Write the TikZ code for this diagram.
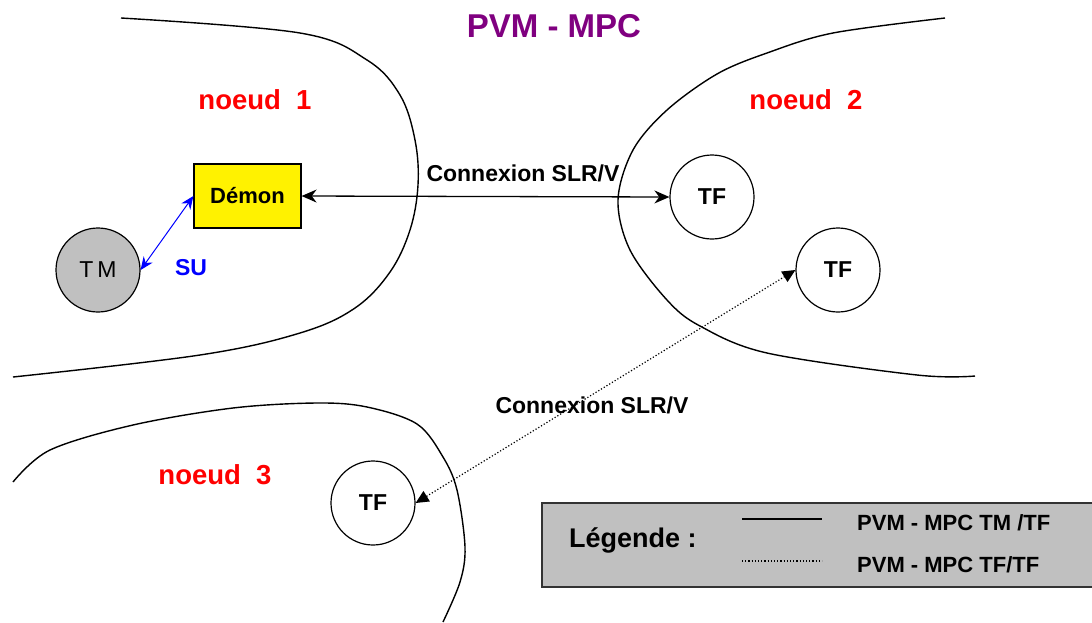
\documentclass[tikz,border=0pt]{standalone}
\usepackage{fontspec}
\setmainfont{Liberation Sans}
\usetikzlibrary{arrows.meta}
\definecolor{pvmpurple}{HTML}{800080}
\definecolor{legendgray}{HTML}{C0C0C0}
\definecolor{tmgray}{HTML}{C0C0C0}
\tikzset{
  boundary/.style={line width=1.4pt, black},
  tfnode/.style={circle, draw=black, line width=1.2pt, minimum size=84pt, inner sep=0pt,
    font=\fontsize{23}{27}\selectfont\bfseries},
  noeudlabel/.style={text=red, font=\fontsize{27.5}{31}\selectfont\bfseries, inner sep=0pt},
  connlabel/.style={font=\fontsize{23}{27}\selectfont\bfseries, inner sep=0pt},
  legtext/.style={font=\fontsize{22}{26}\selectfont\bfseries, inner sep=0pt, anchor=west},
}
\begin{document}
\begin{tikzpicture}[x=1pt, y=-1pt]
\useasboundingbox (0,0) rectangle (1092,622);
\fill[white] (0,0) rectangle (1092,622);

% node boundaries
\draw[boundary] plot[smooth, tension=0.6] coordinates {(121,18) (300,33) (367,60) (400,95) (415,140) (418,185) (410,230) (390,272) (355,308) (300,333) (200,355) (13,377)};
\draw[boundary] plot[smooth, tension=0.55] coordinates {(945,18) (833,33) (767,53) (717,74) (667,110) (633,150) (618,200) (630,250) (667,300) (700,326) (767,353) (917,375) (975,376)};
\draw[boundary] plot[smooth, tension=0.55] coordinates {(13,482) (50,450) (133,425) (233,408) (317,403) (367,407) (417,424) (443,457) (457,490) (465,547) (460,582) (443,622)};

% title
\node[text=pvmpurple, font=\fontsize{33}{37}\selectfont\bfseries, inner sep=0pt] (title) at (554,26) {PVM - MPC};

% labels of nodes
\node[noeudlabel] (n1) at (255,100) {noeud\ \ 1};
\node[noeudlabel] (n2) at (806,100) {noeud\ \ 2};
\node[noeudlabel] (n3) at (215,475) {noeud\ \ 3};

% processes
\node[draw=black, fill=yellow, line width=1.2pt, minimum width=107pt, minimum height=64pt, inner sep=0pt,
  font=\fontsize{22}{26}\selectfont\bfseries] (demon) at (247.5,196) {Démon};
\node[circle, draw=black, fill=tmgray, line width=1.2pt, minimum size=84pt, inner sep=0pt,
  font=\fontsize{23}{27}\selectfont] (tm) at (98,270) {T\,M};
\node[tfnode] (tfa) at (712,197) {TF};
\node[tfnode] (tfb) at (838,270) {TF};
\node[tfnode] (tfc) at (373,503) {TF};

% connectors
\draw[line width=1.3pt, {Stealth[length=15pt, width=13pt]}-{Stealth[length=15pt, width=13pt]}] (demon.east) -- (tfa.west);
\draw[blue, line width=1pt, {Stealth[length=13pt, width=11pt]}-{Stealth[length=13pt, width=11pt]}] (tm.east) -- (demon.west);
\draw[line width=1.2pt, dotted, {Triangle[length=13pt, width=12pt]}-{Triangle[length=13pt, width=12pt]}] (tfc.east) -- (tfb.west);

\node[connlabel] (c1) at (523,173) {Connexion SLR/V};
\node[connlabel] (c2) at (592,405) {Connexion SLR/V};
\node[text=blue, font=\fontsize{23}{27}\selectfont\bfseries, inner sep=0pt] (su) at (191,268) {SU};

% legend
\draw[fill=legendgray, draw=black!80, line width=1.3pt] (542,503) rectangle (1100,587);
\node[font=\fontsize{27}{31}\selectfont\bfseries, inner sep=0pt, anchor=west] (leg) at (569,540) {Légende :};
\coordinate (ls1) at (742,519);
\coordinate (le1) at (822,519);
\coordinate (ls2) at (742,561);
\coordinate (le2) at (822,561);
\draw[line width=1.2pt] (ls1) -- (le1);
\draw[line width=1.2pt, dotted] (ls2) -- (le2);
\node[legtext] (lt1) at (857,523) {PVM - MPC TM /TF};
\node[legtext] (lt2) at (857,565) {PVM - MPC TF/TF};
\end{tikzpicture}
\end{document}
